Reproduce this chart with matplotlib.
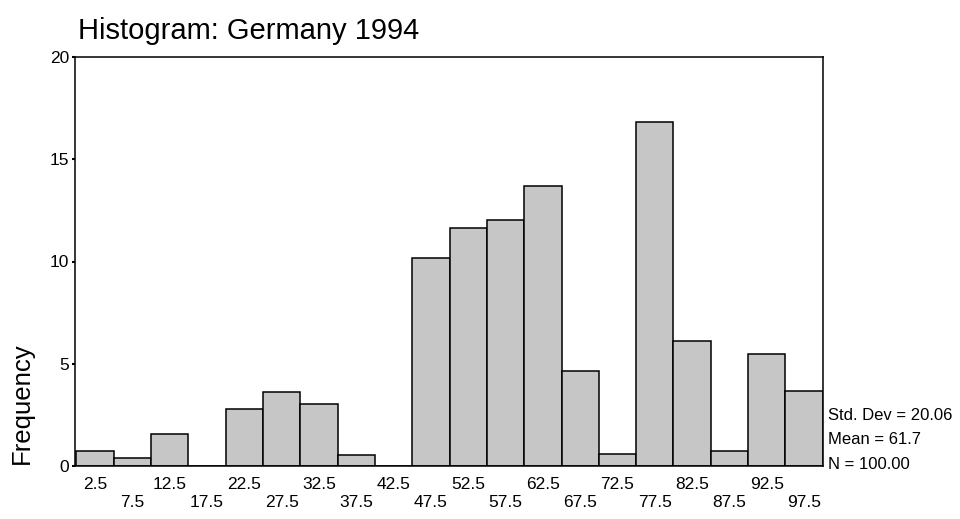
import numpy as np
import matplotlib.pyplot as plt

plt.rcParams["font.family"] = ["Liberation Sans", "DejaVu Sans"]

# bin midpoints (width 5) and frequencies
bin_mids = [2.5, 7.5, 12.5, 17.5, 22.5, 27.5, 32.5, 37.5, 42.5, 47.5,
            52.5, 57.5, 62.5, 67.5, 72.5, 77.5, 82.5, 87.5, 92.5, 97.5]
freqs = [0.75, 0.39, 1.56, 0.0, 2.77, 3.62, 3.03, 0.55, 0.0, 10.16,
         11.62, 12.03, 13.69, 4.65, 0.59, 16.8, 6.11, 0.75, 5.46, 3.68]
stats_lines = ["Std. Dev = 20.06", "Mean = 61.7", "N = 100.00"]
y_ticks = [0, 5, 10, 15, 20]


def draw_histogram():
    fig = plt.figure(figsize=(9.6, 5.19), dpi=100)
    ax = fig.add_axes([75 / 960, 1 - 466 / 519, (822.7 - 75) / 960, (466 - 57) / 519])

    ax.bar(bin_mids, freqs, width=5, color="#c6c6c6", edgecolor="black", linewidth=1.1)

    ax.set_xlim(-0.2, 100)
    ax.set_ylim(0, 20)
    ax.set_yticks(y_ticks)

    # alternate labels on two rows, like the SPSS output
    labels = [f"{m:g}" if i % 2 == 0 else f"\n{m:g}" for i, m in enumerate(bin_mids)]
    ax.set_xticks(bin_mids)
    ax.set_xticklabels(labels, linespacing=1.25)
    ax.tick_params(axis="x", length=0, pad=8, labelsize=12.5)
    ax.tick_params(axis="y", length=2, width=1.5, pad=2, labelsize=12.5)

    for sp in ax.spines.values():
        sp.set_linewidth(1.1)
        sp.set_color("black")

    fig.text(78 / 960, 1 - 31 / 519, "Histogram: Germany 1994", fontsize=21,
             ha="left", va="center")
    fig.text(22 / 960, 1 - 464 / 519, "Frequency", fontsize=18.5, rotation=90,
             ha="center", va="bottom")
    fig.text(828 / 960, 1 - 472 / 519, "\n".join(stats_lines), fontsize=12,
             ha="left", va="bottom", linespacing=1.8)

    fig.savefig("out.png", dpi=100)


if __name__ == "__main__":
    draw_histogram()
